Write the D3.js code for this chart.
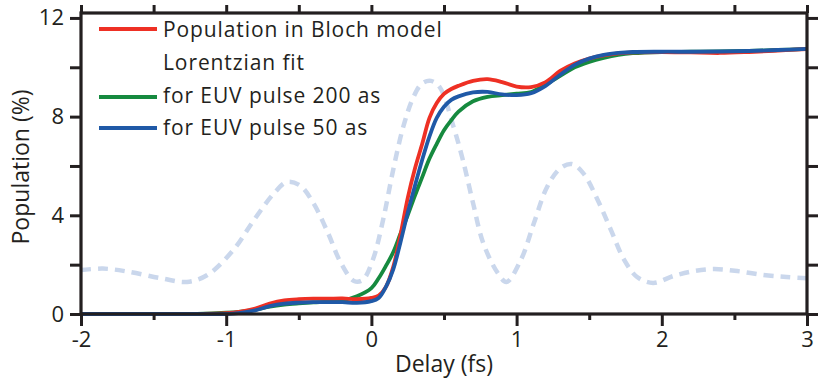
<!DOCTYPE html>
<html>
<head>
<meta charset="utf-8">
<script src="https://cdn.jsdelivr.net/npm/d3@7"></script>
<style>
  html, body { margin: 0; padding: 0; background: #ffffff; }
  svg { display: block; }
  text { font-family: "Open Sans", "DejaVu Sans", sans-serif; fill: #231f20; }
</style>
</head>
<body>
<svg id="chart" width="818" height="383"></svg>
<script>
// ---------------- data ----------------
const delay = [-2, -1.5, -1.2, -1.0, -0.9, -0.8, -0.7, -0.6, -0.5, -0.4, -0.3, -0.2, -0.1, 0, 0.05, 0.1, 0.15, 0.2, 0.25, 0.3, 0.35, 0.4, 0.45, 0.5, 0.55, 0.6, 0.7, 0.8, 0.9, 1.0, 1.1, 1.2, 1.3, 1.4, 1.5, 1.6, 1.7, 1.8, 2.0, 2.2, 2.4, 2.6, 2.8, 3.0];
const blochModel = [0, 0, 0, 0.03, 0.1, 0.22, 0.42, 0.55, 0.6, 0.62, 0.62, 0.63, 0.6, 0.65, 0.75, 1.1, 1.9, 3.2, 4.7, 5.9, 6.9, 7.95, 8.55, 8.92, 9.12, 9.25, 9.45, 9.52, 9.4, 9.22, 9.2, 9.4, 9.85, 10.15, 10.35, 10.48, 10.56, 10.6, 10.62, 10.6, 10.58, 10.62, 10.68, 10.74];
const euv200as = [0, 0, 0, 0.05, 0.1, 0.18, 0.3, 0.38, 0.43, 0.47, 0.5, 0.55, 0.72, 1.05, 1.45, 1.95, 2.5, 3.25, 4.0, 4.8, 5.55, 6.3, 6.9, 7.45, 7.85, 8.2, 8.62, 8.8, 8.87, 8.93, 9.0, 9.3, 9.65, 10.0, 10.22, 10.38, 10.5, 10.57, 10.62, 10.63, 10.64, 10.66, 10.7, 10.75];
const euv50as = [0, 0, 0, 0, 0.05, 0.15, 0.32, 0.42, 0.46, 0.48, 0.48, 0.48, 0.45, 0.52, 0.65, 1.1, 1.8, 2.9, 4.1, 5.2, 6.25, 7.2, 7.95, 8.4, 8.68, 8.82, 8.98, 9.0, 8.9, 8.87, 8.95, 9.25, 9.7, 10.1, 10.35, 10.5, 10.58, 10.62, 10.63, 10.63, 10.64, 10.66, 10.7, 10.75];

const pulseDelay = [-2, -1.85, -1.68, -1.45, -1.27, -1.13, -0.95, -0.81, -0.67, -0.58, -0.49, -0.4, -0.3, -0.21, -0.12, -0.06, 0.01, 0.08, 0.15, 0.22, 0.29, 0.35, 0.41, 0.47, 0.565, 0.63, 0.70, 0.77, 0.87, 0.93, 1.03, 1.12, 1.21, 1.30, 1.38, 1.46, 1.56, 1.65, 1.74, 1.83, 1.94, 2.08, 2.22, 2.36, 2.52, 2.70, 2.86, 3.0];
const pulseShape = [1.78, 1.84, 1.72, 1.45, 1.3, 1.58, 2.6, 3.8, 4.9, 5.35, 5.2, 4.5, 3.3, 2.07, 1.34, 1.38, 2.2, 3.8, 5.84, 7.6, 8.8, 9.35, 9.45, 9.2, 7.6, 6.24, 4.5, 2.88, 1.66, 1.3, 2.2, 3.7, 5.15, 5.9, 6.08, 5.7, 4.6, 3.4, 2.2, 1.5, 1.26, 1.54, 1.74, 1.82, 1.74, 1.58, 1.5, 1.45];

const xMajorTicks = [-2, -1, 0, 1, 2, 3];
const xMinorTicks = [-1.5, -0.5, 0.5, 1.5, 2.5];
const yMajorTicks = [0, 4, 8, 12];
const yMinorTicks = [2, 6, 10];

const legendLabels = ["Population in Bloch model", "Lorentzian fit", "for EUV pulse 200 as", "for EUV pulse 50 as"];
const xTitle = "Delay (fs)";
const yTitle = "Population (%)";

// ---------------- layout ----------------
const ink = "#231f20";
const colors = { red: "#ee3024", green: "#168a3f", blue: "#1f59a7", pulse: "#cad7ec" };
const svg = d3.select("#chart");
const mLeft = 81, mRight = 807, mTop = 13, mBottom = 314;

const x = d3.scaleLinear().domain([-2, 3]).range([mLeft, mRight]);
const y = d3.scaleLinear().domain([0, 12.2]).range([mBottom, mTop]);

const plot = svg.append("g");

const line = d3.line().x(d => x(d[0])).y(d => y(d[1])).curve(d3.curveCatmullRom.alpha(0.5));

// pulse (dashed)
plot.append("path")
  .datum(pulseDelay.map((d, i) => [d, pulseShape[i]]))
  .attr("d", line)
  .attr("fill", "none")
  .attr("stroke", colors.pulse)
  .attr("stroke-width", 4.5)
  .attr("stroke-dasharray", "10,7");

const series = [
  { vals: euv200as, color: colors.green },
  { vals: blochModel, color: colors.red },
  { vals: euv50as, color: colors.blue }
];
series.forEach(s => {
  plot.append("path")
    .datum(delay.map((d, i) => [d, s.vals[i]]))
    .attr("d", line)
    .attr("fill", "none")
    .attr("stroke", s.color)
    .attr("stroke-width", 3.8)
    .attr("stroke-linejoin", "round");
});

// ---------------- axes ----------------
const plainFormat = d => String(d);
function styleAxis(g) {
  g.select(".domain").remove();
  g.selectAll(".tick line").attr("stroke", ink).attr("stroke-width", 3);
  g.selectAll(".tick text").style("font-family", "'Open Sans', sans-serif").style("font-size", "22px").attr("fill", ink);
}

svg.append("g").attr("transform", `translate(0,${mBottom})`)
  .call(d3.axisBottom(x).tickValues(xMajorTicks).tickSize(12).tickPadding(5).tickFormat(plainFormat))
  .call(styleAxis);
svg.append("g").attr("transform", `translate(0,${mBottom})`)
  .call(d3.axisBottom(x).tickValues(xMinorTicks).tickSize(6).tickFormat(""))
  .call(styleAxis);
svg.append("g").attr("transform", `translate(0,${mTop})`)
  .call(d3.axisTop(x).tickValues(xMajorTicks.concat(xMinorTicks)).tickSize(8).tickFormat(""))
  .call(styleAxis);
svg.append("g").attr("transform", `translate(${mLeft},0)`)
  .call(d3.axisLeft(y).tickValues(yMajorTicks).tickSize(11).tickPadding(6).tickFormat(plainFormat))
  .call(styleAxis);
svg.append("g").attr("transform", `translate(${mLeft},0)`)
  .call(d3.axisLeft(y).tickValues(yMinorTicks).tickSize(11).tickFormat(""))
  .call(styleAxis);
svg.append("g").attr("transform", `translate(${mRight},0)`)
  .call(d3.axisRight(y).tickValues(yMajorTicks.concat(yMinorTicks)).tickSize(11).tickFormat(""))
  .call(styleAxis);

// frame
svg.append("rect")
  .attr("x", mLeft).attr("y", mTop)
  .attr("width", mRight - mLeft).attr("height", mBottom - mTop)
  .attr("fill", "none").attr("stroke", ink).attr("stroke-width", 3.2);

// axis titles
svg.append("text")
  .attr("x", 444).attr("y", 372)
  .attr("text-anchor", "middle")
  .style("font-size", "23px")
  .text(xTitle);
svg.append("text")
  .attr("transform", "translate(29,167) rotate(-90)")
  .attr("text-anchor", "middle")
  .style("font-size", "23px")
  .text(yTitle);

// legend
const legendColors = [colors.red, null, colors.green, colors.blue];
const legendLineY = [29, 62, 97, 128];
const legendTextY = [37, 70, 103, 135];
const legend = svg.append("g");
legendLabels.forEach((lab, i) => {
  if (legendColors[i]) {
    legend.append("line")
      .attr("x1", 99).attr("x2", 157)
      .attr("y1", legendLineY[i]).attr("y2", legendLineY[i])
      .attr("stroke", legendColors[i]).attr("stroke-width", 4);
  }
  legend.append("text")
    .attr("x", 163).attr("y", legendTextY[i])
    .style("font-size", "21px")
    .style("letter-spacing", "0.9px")
    .text(lab);
});
</script>
</body>
</html>
